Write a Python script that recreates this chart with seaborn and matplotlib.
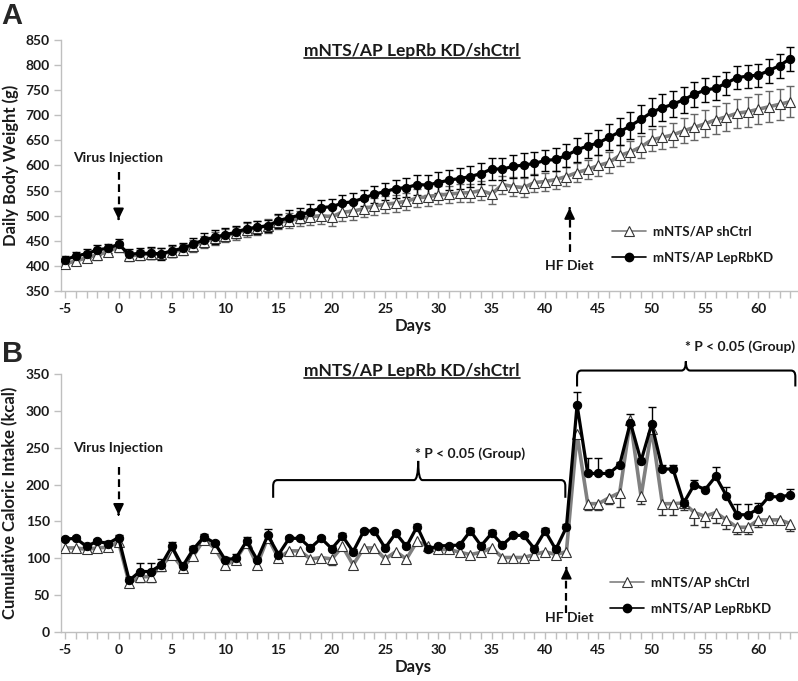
import numpy as np
import seaborn as sns
import matplotlib
matplotlib.use("Agg")
from matplotlib import pyplot as plt
from matplotlib.path import Path
from matplotlib.patches import PathPatch
from matplotlib.lines import Line2D
from matplotlib.ticker import MultipleLocator

days = list(range(-5, 64))

# Panel A: daily body weight (g)
kd_weight = [412, 420, 424, 432, 435, 443, 423, 425, 425, 424, 430, 435, 443, 452, 457, 462,
             467, 474, 477, 480, 490, 496, 501, 508, 516, 518, 525, 528, 535, 543, 548, 554,
             556, 562, 561, 566, 571, 574, 578, 584, 593, 593, 598, 601, 604, 610, 612, 620,
             631, 639, 645, 656, 667, 679, 692, 706, 715, 722, 731, 742, 750, 754, 764, 775,
             778, 780, 789, 799, 813]
kd_weight_err = [8, 8, 9, 10, 9, 11, 10, 11, 12, 12, 12, 11, 13, 14, 14, 13, 12, 13, 13, 12,
                 14, 15, 15, 15, 16, 16, 17, 17, 16, 17, 17, 18, 19, 20, 20, 21, 20, 21, 21, 20,
                 22, 22, 22, 23, 22, 21, 22, 23, 24, 25, 25, 26, 27, 27, 28, 28, 27, 26, 26, 25,
                 24, 24, 23, 23, 23, 23, 24, 24, 24]
ctrl_weight = [404, 410, 416, 422, 428, 438, 420, 422, 424, 424, 428, 432, 440, 448, 455, 460,
               465, 472, 476, 480, 487, 490, 495, 498, 500, 498, 507, 509, 514, 519, 523, 525,
               529, 535, 538, 541, 543, 545, 546, 550, 543, 562, 558, 556, 566, 568, 572, 578,
               586, 592, 600, 606, 620, 627, 637, 651, 656, 661, 669, 676, 683, 691, 697, 704,
               707, 712, 717, 722, 727]
ctrl_weight_err = [8, 9, 9, 10, 9, 10, 10, 10, 11, 11, 11, 11, 12, 12, 13, 13, 13, 14, 14, 14,
                   14, 15, 15, 16, 17, 18, 17, 17, 17, 17, 17, 17, 17, 18, 18, 18, 17, 18, 18, 19,
                   19, 18, 19, 19, 18, 18, 18, 19, 19, 19, 20, 20, 21, 21, 22, 22, 23, 24, 25, 26,
                   27, 28, 28, 29, 30, 30, 31, 31, 31]

# Panel B: caloric intake (kcal)
kd_kcal = [126, 127, 116, 123, 120, 128, 70, 82, 82, 91, 116, 89, 112, 129, 121, 98,
           100, 123, 98, 131, 105, 127, 127, 114, 127, 113, 130, 109, 137, 137, 114, 134,
           116, 143, 112, 117, 117, 118, 137, 117, 134, 118, 131, 131, 113, 137, 112, 142,
           308, 215, 215, 215, 227, 284, 232, 282, 221, 221, 175, 200, 193, 211, 185, 159,
           159, 167, 184, 183, 186]
kd_kcal_err = [3, 3, 5, 3, 3, 4, 4, 12, 12, 8, 6, 4, 5, 4, 3, 4, 6, 6, 4, 8, 3, 3, 3, 3, 3, 3,
               4, 3, 3, 3, 4, 3, 3, 3, 4, 3, 3, 3, 4, 3, 4, 3, 3, 3, 3, 4, 3, 4, 18, 21, 21, 5,
               4, 11, 4, 23, 5, 6, 4, 6, 4, 13, 12, 15, 15, 8, 4, 3, 8]
ctrl_kcal = [114, 114, 112, 114, 115, 122, 66, 75, 75, 89, 105, 87, 103, 125, 114, 91,
             98, 121, 91, 128, 100, 110, 110, 99, 101, 99, 116, 91, 114, 114, 99, 109,
             99, 123, 116, 112, 112, 108, 105, 108, 114, 101, 101, 101, 105, 109, 105, 109,
             268, 174, 174, 182, 189, 287, 184, 275, 174, 174, 175, 162, 157, 162, 152, 142,
             142, 152, 152, 152, 147]
ctrl_kcal_err = [4, 4, 4, 4, 4, 4, 4, 7, 7, 6, 5, 4, 5, 4, 4, 4, 4, 4, 4, 4, 3, 3, 3, 3, 3, 8,
                 3, 4, 3, 3, 4, 3, 3, 4, 8, 4, 3, 3, 4, 4, 3, 4, 5, 5, 3, 3, 3, 3, 5, 8, 8, 9,
                 20, 3, 10, 5, 15, 15, 9, 17, 14, 14, 13, 9, 9, 9, 5, 5, 10]

labels = ["mNTS/AP shCtrl", "mNTS/AP LepRbKD"]
title = "mNTS/AP LepRb KD/shCtrl"

sns.set_style("white")
plt.rcParams['font.family'] = ['Lato', 'DejaVu Sans']
plt.rcParams['font.weight'] = 'bold'
plt.rcParams['axes.unicode_minus'] = False

GREY_AX = '#BFBFBF'
CTRL_LINE = '#808080'
TXT = '#1a1a1a'


def err_bars(ax, x, y, err, up, down, color):
    y = np.array(y, dtype=float)
    err = np.array(err, dtype=float)
    lo = y - err if down else y
    hi = y + err if up else y
    ax.vlines(x, lo, hi, color=color, lw=1, zorder=2)
    if up:
        ax.plot(x, hi, ls='none', marker='_', ms=6, mew=1, color=color, zorder=2)
    if down:
        ax.plot(x, lo, ls='none', marker='_', ms=6, mew=1, color=color, zorder=2)


def draw_series(ax, ctrl, ctrl_err, kd, kd_err, symmetric, ctrl_err_color):
    if symmetric:
        err_bars(ax, days, ctrl, ctrl_err, True, True, ctrl_err_color)
        err_bars(ax, days, kd, kd_err, True, True, 'black')
    else:
        err_bars(ax, days, ctrl, ctrl_err, False, True, ctrl_err_color)
        err_bars(ax, days, kd, kd_err, True, False, 'black')
    sns.lineplot(x=days, y=ctrl, ax=ax, color=CTRL_LINE, lw=2.6, marker='^', markersize=7,
                 markerfacecolor='white', markeredgecolor='#333333', markeredgewidth=0.8,
                 zorder=3)
    sns.lineplot(x=days, y=kd, ax=ax, color='black', lw=2.3, marker='o', markersize=6,
                 markerfacecolor='black', markeredgecolor='black', zorder=4)


def style_axes(ax, ylim, ystep):
    ax.set_xlim(-5.4, 63.6)
    ax.set_ylim(*ylim)
    ax.set_xticks(list(range(-5, 61, 5)))
    ax.xaxis.set_minor_locator(MultipleLocator(1))
    ax.set_yticks(list(range(ylim[0], ylim[1] + 1, ystep)))
    sns.despine(ax=ax)
    for s in ['left', 'bottom']:
        ax.spines[s].set_color(GREY_AX)
        ax.spines[s].set_linewidth(1)
    ax.tick_params(axis='both', which='both', direction='out', length=5, width=1,
                   color=GREY_AX, labelcolor=TXT, labelsize=10)
    ax.tick_params(axis='x', which='both', bottom=True, pad=4)
    ax.tick_params(axis='y', left=True, pad=3)
    ax.set_xlabel("Days", fontsize=12, fontweight='bold', color=TXT, labelpad=2, x=0.478)


def arrow(ax, x, y_tail, y_tip):
    direction = 1 if y_tip > y_tail else -1
    span = abs(y_tip - y_tail)
    ax.plot([x, x], [y_tail, y_tip - direction * span * 0.1], ls=(0, (3.5, 2)), color='black',
            lw=1.6)
    ax.annotate('', xy=(x, y_tip), xytext=(x, y_tip - direction * span * 0.12),
                arrowprops=dict(arrowstyle='-|>,head_length=0.45,head_width=0.22', color='black',
                                lw=1.4, mutation_scale=14))


def brace(ax, x0, x1, xm, y, ydown, ytip, rx, ry):
    verts = [(x0, ydown), (x0, y - ry), (x0, y), (x0 + rx, y),
             (xm - rx, y), (xm, y), (xm, ytip), (xm, y), (xm + rx, y),
             (x1 - rx, y), (x1, y), (x1, y - ry), (x1, ydown)]
    codes = [Path.MOVETO, Path.LINETO, Path.CURVE3, Path.CURVE3,
             Path.LINETO, Path.CURVE3, Path.CURVE3, Path.CURVE3, Path.CURVE3,
             Path.LINETO, Path.CURVE3, Path.CURVE3, Path.LINETO]
    ax.add_patch(PathPatch(Path(verts, codes), fill=False, lw=1.5, color='black',
                           clip_on=False))


def legend(ax, x, y):
    handles = [
        Line2D([], [], color=CTRL_LINE, lw=1.2, marker='^', ms=7, mfc='white', mec='#333333', mew=0.8),
        Line2D([], [], color='black', lw=1.2, marker='o', ms=6, mfc='black', mec='black'),
    ]
    ax.legend(handles, labels, loc='upper left', bbox_to_anchor=(x, y), frameon=False,
              fontsize=9.5, handlelength=2.6, handletextpad=0.5, labelspacing=1.1,
              borderpad=0, borderaxespad=0, labelcolor=TXT)


fig = plt.figure(figsize=(7.98, 6.81), dpi=100)
ax_a = fig.add_axes([0.0764, 0.5727, 0.922, 0.3686])
ax_b = fig.add_axes([0.0764, 0.0720, 0.922, 0.3789])

# ---- Panel A ----
draw_series(ax_a, ctrl_weight, ctrl_weight_err, kd_weight, kd_weight_err, True, '#666666')
style_axes(ax_a, (350, 850), 50)
ax_a.set_ylabel("Daily Body Weight (g)", fontsize=12, fontweight='bold', color=TXT, labelpad=5)
ax_a.text(0, 615, "Virus Injection", ha='center', va='center', fontsize=10, color=TXT)
arrow(ax_a, 0, 587, 487)
ax_a.text(42.3, 400, "HF Diet", ha='center', va='center', fontsize=10, color=TXT)
arrow(ax_a, 42.3, 428, 521)
legend(ax_a, 0.749, 0.262)
t_a = ax_a.text(0.477, 0.956, title, transform=ax_a.transAxes, ha='center', va='center',
                fontsize=12.5, color=TXT)

# ---- Panel B ----
draw_series(ax_b, ctrl_kcal, ctrl_kcal_err, kd_kcal, kd_kcal_err, False, '#333333')
style_axes(ax_b, (0, 350), 50)
ax_b.set_ylabel("Cumulative Caloric Intake (kcal)", fontsize=12, fontweight='bold', color=TXT,
                labelpad=5)
ax_b.text(0, 250, "Virus Injection", ha='center', va='center', fontsize=10, color=TXT)
arrow(ax_b, 0, 224, 155)
ax_b.text(42.3, 19, "HF Diet", ha='center', va='center', fontsize=10, color=TXT)
arrow(ax_b, 42.0, 26, 91)
brace(ax_b, 14.5, 41.9, 28.1, 206, 182, 232, 0.4, 8)
ax_b.text(27.8, 242, "* P < 0.05 (Group)", ha='left', va='center', fontsize=10, color=TXT)
brace(ax_b, 43.0, 63.47, 53.2, 354.6, 333, 367, 0.4, 8)
ax_b.text(53.1, 387, "* P < 0.05 (Group)", ha='left', va='center', fontsize=10, color=TXT,
          clip_on=False)
legend(ax_b, 0.746, 0.216)
t_b = ax_b.text(0.477, 1.01, title, transform=ax_b.transAxes, ha='center', va='center',
                fontsize=12.5, color=TXT)

fig.text(0.002, 0.997, "A", fontsize=21, fontweight='bold', family='Liberation Sans', va='top')
fig.text(0.002, 0.500, "B", fontsize=21, fontweight='bold', family='Liberation Sans', va='top')

# underline the panel titles
fig.canvas.draw()
inv = fig.transFigure.inverted()
for t in (t_a, t_b):
    bb = t.get_window_extent()
    (x0, y0), (x1, _) = inv.transform([(bb.x0, bb.y0 + 1), (bb.x1, bb.y1)])
    fig.add_artist(Line2D([x0, x1], [y0, y0], color=TXT, lw=1.2, transform=fig.transFigure))

fig.savefig("out.png", dpi=100)
